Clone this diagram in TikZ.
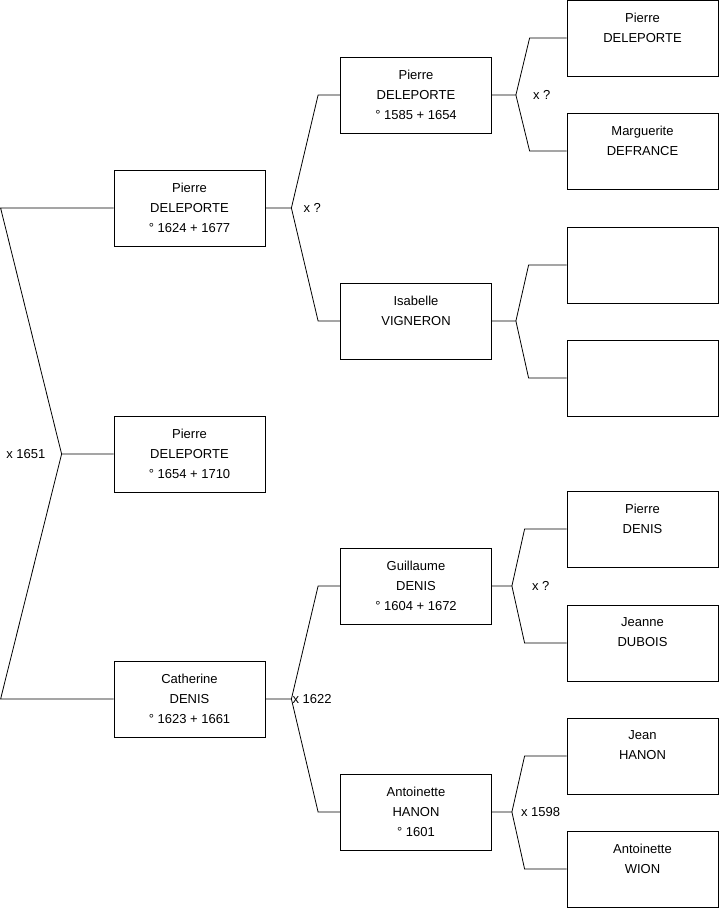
\documentclass[tikz,border=0pt]{standalone}
\usepackage{fontspec}
\setmainfont{Liberation Sans}
\usepackage{tikz}
\usetikzlibrary{positioning,calc}

% fork from a child to its two parents
\newcommand{\couple}[5]{%
  \draw[link] (#1.east) -- ++(#4,0) coordinate (#1-f)
    -- ($(#2.west)+(-#5,0)$) -- (#2.west);
  \draw[link] (#1-f) -- ($(#3.west)+(-#5,0)$) -- (#3.west);}

\begin{document}
\begin{tikzpicture}[
  x=1pt, y=-1pt,
  font=\fontsize{13}{20}\selectfont,
  person/.style={draw, line width=0.8pt, minimum width=151pt, minimum height=76pt,
                 align=center, inner sep=0pt, text depth=1pt},
  union/.style={inner sep=0pt, anchor=west},
  link/.style={line width=0.8pt}
]
\useasboundingbox (0,0) rectangle (719,908);
% --- generation 1 ------------------------------------------------------
\node[person] (p1654) at (189.5,454) {Pierre\\DELEPORTE\\° 1654 + 1710};
% --- generation 2 ------------------------------------------------------
\node[person] (p1624)  at (189.5,208) {Pierre\\DELEPORTE\\° 1624 + 1677};
\node[person] (cdenis) at (189.5,699) {Catherine\\DENIS\\° 1623 + 1661};
% --- generation 3 ------------------------------------------------------
\node[person] (p1585)     at (416,95)  {Pierre\\DELEPORTE\\° 1585 + 1654};
\node[person] (ivigneron) at (416,321) {Isabelle\\VIGNERON\\\mbox{}};
\node[person] (gdenis)    at (416,586) {Guillaume\\DENIS\\° 1604 + 1672};
\node[person] (ahanon)    at (416,812) {Antoinette\\HANON\\° 1601};
% --- generation 4 ------------------------------------------------------
\node[person] (pdeleporte) at (642.5,38)  {Pierre\\DELEPORTE\\\mbox{}};
\node[person] (mdefrance)  at (642.5,151) {Marguerite\\DEFRANCE\\\mbox{}};
\node[person] (unknowna)   at (642.5,265) {};
\node[person] (unknownb)   at (642.5,378) {};
\node[person] (pdenis)     at (642.5,529) {Pierre\\DENIS\\\mbox{}};
\node[person] (jdubois)    at (642.5,643) {Jeanne\\DUBOIS\\\mbox{}};
\node[person] (jhanon)     at (642.5,756) {Jean\\HANON\\\mbox{}};
\node[person] (awion)      at (642.5,869) {Antoinette\\WION\\\mbox{}};
% --- forks -------------------------------------------------------------
\draw[link] (p1654.west) -- ++(-52,0) coordinate (p1654-f)
  -- ($(p1624.west)+(-113,0)$) -- (p1624.west);
\draw[link] (p1654-f) -- ($(cdenis.west)+(-113,0)$) -- (cdenis.west);
\couple{p1624}{p1585}{ivigneron}{26}{22}
\couple{cdenis}{gdenis}{ahanon}{26}{22}
\couple{p1585}{pdeleporte}{mdefrance}{24}{37}
\couple{ivigneron}{unknowna}{unknownb}{24}{38}
\couple{gdenis}{pdenis}{jdubois}{20}{42}
\couple{ahanon}{jhanon}{awion}{20}{42}
% --- marriages ---------------------------------------------------------
\node[union, anchor=east, left=16pt of p1654-f] (m1651) {x 1651};
\node[union, right=12pt of p1624-f]  (m1624) {x ?};
\node[union, right=1pt of cdenis-f]  (m1622) {x 1622};
\node[union, right=17pt of p1585-f]  (m1585) {x ?};
\node[union, right=20pt of gdenis-f] (m1604) {x ?};
\node[union, right=9pt of ahanon-f]  (m1598) {x 1598};
\end{tikzpicture}
\end{document}
